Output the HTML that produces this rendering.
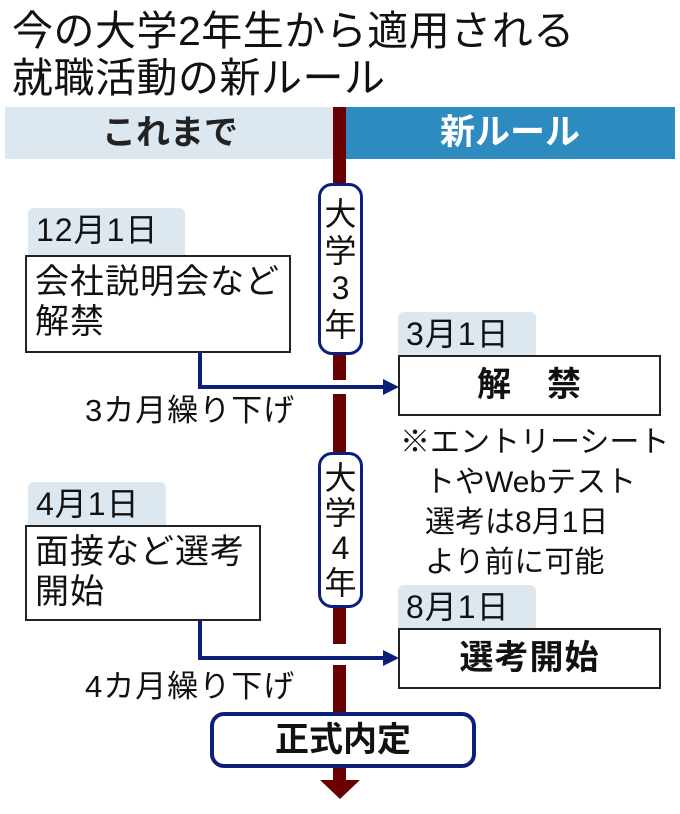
<!DOCTYPE html>
<html><head><meta charset="utf-8"><style>
body{margin:0;width:680px;height:814px;background:#fff;position:relative;overflow:hidden;font-family:"Liberation Sans","Noto Sans CJK JP",sans-serif;color:#111}
.a{position:absolute}
.t{font-size:41px;line-height:46px;left:12px;letter-spacing:0.5px}
.tab{position:absolute;background:#dde7f0;border-radius:6px 6px 0 0;font-size:32px;line-height:44px;padding-left:8px;box-sizing:border-box;letter-spacing:1px}
.box{position:absolute;border:2px solid #222;background:#fff;box-sizing:border-box;font-size:34px;line-height:40px;letter-spacing:1px}
.pill{position:absolute;border:3px solid #0b1f7a;background:#fff;border-radius:14px;box-sizing:border-box;font-size:32px;text-align:center}
.lbl{position:absolute;font-size:31px;line-height:36px;letter-spacing:1px;white-space:nowrap}
</style></head><body>
<div class="a t" style="top:8px">今の大学2年生から適用される</div>
<div class="a t" style="top:55px">就職活動の新ルール</div>

<div class="a" style="left:5px;top:107px;width:330px;height:52px;background:#dde7f0;font-size:34px;line-height:52px;text-align:center;font-weight:bold;color:#222">これまで</div>
<div class="a" style="left:345px;top:107px;width:330px;height:52px;background:#2e8bbf;font-size:35px;line-height:52px;text-align:center;font-weight:bold;color:#fff">新ルール</div>

<svg class="a" style="left:0;top:0" width="680" height="814">
<rect x="333" y="107" width="13" height="273" fill="#6b0000"/>
<rect x="333" y="394" width="13" height="250" fill="#6b0000"/>
<rect x="333" y="665" width="13" height="117" fill="#6b0000"/>
<polygon points="320,780 360,780 340,799" fill="#6b0000"/>
<polyline points="200,352 200,387 385,387" fill="none" stroke="#0b1f7a" stroke-width="4"/>
<polygon points="383,379 399,387 383,395" fill="#0b1f7a"/>
<polyline points="200,620 200,658 385,658" fill="none" stroke="#0b1f7a" stroke-width="4"/>
<polygon points="383,650 399,658 383,666" fill="#0b1f7a"/>
</svg>

<div class="pill" style="left:318px;top:183px;width:45px;height:172px;line-height:37px;padding-top:10px">大<br>学<br>3<br>年</div>
<div class="pill" style="left:318px;top:452px;width:45px;height:156px;line-height:35px;padding-top:6px">大<br>学<br>4<br>年</div>

<div class="tab" style="left:28px;top:208px;width:157px;height:48px">12月1日</div>
<div class="box" style="left:25px;top:255px;width:266px;height:98px;padding:5px 0 0 8px">会社説明会など<br>解禁</div>
<div class="lbl" style="left:85px;top:393px">3カ月繰り下げ</div>

<div class="tab" style="left:398px;top:312px;width:138px;height:44px">3月1日</div>
<div class="box" style="left:398px;top:355px;width:263px;height:61px;line-height:57px;text-align:center;font-weight:bold">解　禁</div>
<div class="lbl" style="left:400px;top:423px;line-height:40px;letter-spacing:0;font-size:30px">※エントリーシート<br>&nbsp;&nbsp;&nbsp;トやWebテスト<br>&nbsp;&nbsp;&nbsp;選考は8月1日<br>&nbsp;&nbsp;&nbsp;より前に可能</div>

<div class="tab" style="left:28px;top:482px;width:138px;height:44px">4月1日</div>
<div class="box" style="left:25px;top:525px;width:236px;height:96px;padding:5px 0 0 8px">面接など選考<br>開始</div>
<div class="lbl" style="left:85px;top:669px">4カ月繰り下げ</div>

<div class="tab" style="left:398px;top:585px;width:138px;height:44px">8月1日</div>
<div class="box" style="left:398px;top:628px;width:263px;height:61px;line-height:57px;text-align:center;font-weight:bold">選考開始</div>

<div class="pill" style="left:210px;top:712px;width:266px;height:56px;line-height:49px;border-width:4px;font-weight:bold;font-size:34px">正式内定</div>
</body></html>
